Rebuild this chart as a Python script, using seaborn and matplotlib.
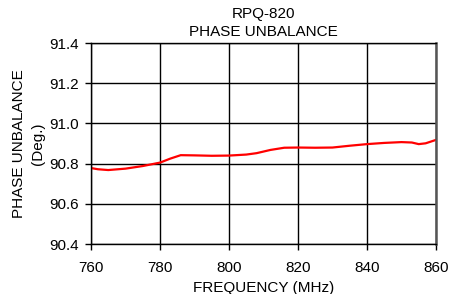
import matplotlib
matplotlib.use("Agg")
import matplotlib.pyplot as plt
import seaborn as sns
import pandas as pd

# values
freq = [760, 762, 765, 770, 775, 780, 783, 786, 790, 795, 800, 805, 808, 812, 816, 820, 825, 830, 835, 840, 845, 850, 853, 855, 857, 860]
phase = [90.778, 90.772, 90.768, 90.775, 90.788, 90.805, 90.825, 90.842, 90.841, 90.839, 90.840, 90.845, 90.852, 90.868, 90.879, 90.880, 90.879, 90.880, 90.889, 90.897, 90.903, 90.907, 90.905, 90.897, 90.901, 90.918]

df = pd.DataFrame({"freq": freq, "phase": phase})

sns.set_style("white", {"xtick.bottom": True, "ytick.left": True,
                        "text.color": "black", "axes.labelcolor": "black",
                        "xtick.color": "black", "ytick.color": "black"})
plt.rcParams['font.family'] = ['Liberation Sans', 'DejaVu Sans']

fig = plt.figure(figsize=(4.49, 2.94), dpi=100)
ax = fig.add_axes([0.2027, 0.17, 0.7683, 0.6837])

sns.lineplot(data=df, x="freq", y="phase", color="#ff0000", linewidth=1.6, ax=ax)

ax.set_xlim(760, 860)
ax.set_ylim(90.4, 91.4)
ax.set_xticks([760, 780, 800, 820, 840, 860])
ax.set_yticks([90.4, 90.6, 90.8, 91.0, 91.2, 91.4])
ax.set_yticklabels(["90.4", "90.6", "90.8", "91.0", "91.2", "91.4"])
ax.grid(True, color="black", linewidth=1.0)
ax.tick_params(axis="both", direction="out", length=4, width=1, labelsize=11, color="black")
ax.tick_params(axis="y", pad=5)
ax.tick_params(axis="x", pad=8.5)
for s in ax.spines.values():
    s.set_color("black")
    s.set_linewidth(1.0)
ax.spines["right"].set_color("#555555")
ax.spines["right"].set_linewidth(1.8)

ax.set_xlabel("FREQUENCY (MHz)", fontsize=11, labelpad=4)
ax.set_ylabel("PHASE UNBALANCE\n(Deg.)", fontsize=11, labelpad=3, linespacing=1.4)
ax.set_title("RPQ-820\nPHASE UNBALANCE", fontsize=11, pad=5, linespacing=1.4)

fig.savefig("out.png", dpi=100)
